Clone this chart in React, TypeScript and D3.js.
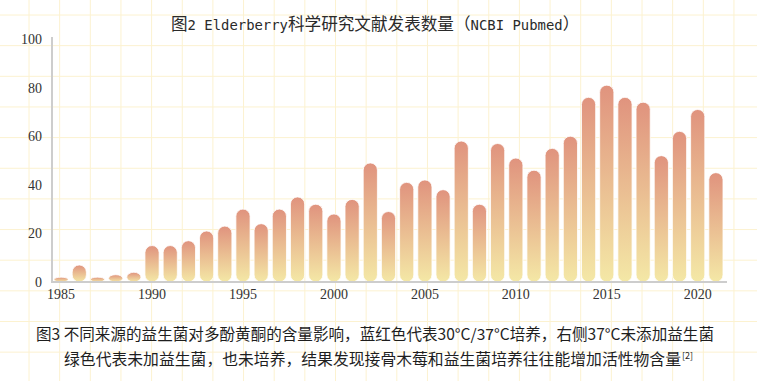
import React from "react";
import * as d3 from "d3";

const years: number[] = d3.range(1985, 2022);
const counts: number[] = [
  2, 7, 2, 3, 4, 15, 15, 17, 21, 23, 30, 24, 30, 35, 32, 28, 34, 49,
  29, 41, 42, 38, 58, 32, 57, 51, 46, 55, 60, 76, 81, 76, 74, 52, 62, 71, 45,
];
const yTicks: number[] = [0, 20, 40, 60, 80, 100];
const xTickYears: number[] = [1985, 1990, 1995, 2000, 2005, 2010, 2015, 2020];
const titleParts: { text: string; latin: boolean }[] = [
  { text: "图", latin: false },
  { text: "2 ", latin: true },
  { text: "Elderberry", latin: true },
  { text: "科学研究文献发表数量（", latin: false },
  { text: "NCBI Pubmed", latin: true },
  { text: "）", latin: false },
];
const captionLines: string[] = [
  "图3 不同来源的益生菌对多酚黄酮的含量影响，蓝红色代表30°C/37°C培养，右侧37°C未添加益生菌",
  "绿色代表未加益生菌，也未培养，结果发现接骨木莓和益生菌培养往往能增加活性物含量",
];

const W = 757;
const H = 381;

export default function App() {
  const x = d3
    .scaleBand<number>()
    .domain(years)
    .range([52, 725])
    .paddingInner(0.22)
    .paddingOuter(0.11);
  const y = d3.scaleLinear().domain([0, 100]).range([282, 39]);

  const gridStep = 30.65;
  const vLines = d3.range(29, W, gridStep);
  const hLines = d3.range(15, H, gridStep);

  const cjk = "'Noto Sans CJK SC', 'Noto Sans', sans-serif";
  const mono = "'DejaVu Sans Mono', 'Liberation Mono', monospace";
  const serif = "'Liberation Serif', 'DejaVu Serif', serif";

  const cjkSize = 16.6;
  const monoSize = 13.9;
  const full = cjkSize;
  const half = monoSize * 0.602;
  let cursor = 171;
  const titleLayout = titleParts.map((p) => {
    const w = p.latin ? p.text.length * half : p.text.length * full;
    const item = { ...p, x: cursor, w };
    cursor += w;
    return item;
  });

  return (
    <svg
      width={W}
      height={H}
      style={{ position: "absolute", left: 0, top: 0, display: "block", background: "#fff" }}
    >
      <defs>
        <linearGradient id="barGrad" x1="0" y1="0" x2="0" y2="1">
          <stop offset="0%" stopColor="#E0937E" />
          <stop offset="100%" stopColor="#F4E8A6" />
        </linearGradient>
      </defs>

      {/* grid paper background */}
      <g stroke="#FCF2D0" strokeWidth={1}>
        {vLines.map((gx, i) => (
          <line key={"v" + i} x1={gx} x2={gx} y1={0} y2={H} />
        ))}
        {hLines.map((gy, i) => (
          <line key={"h" + i} x1={0} x2={W} y1={gy} y2={gy} />
        ))}
      </g>

      {/* title */}
      <text
        y={29.5}
        fill="#2a2a2a"
        xmlSpace="preserve"
        style={{ fontFamily: cjk, fontSize: `${cjkSize}px`, whiteSpace: "pre" }}
      >
        {titleLayout.map((p, i) => (
          <tspan
            key={i}
            x={p.x}
            style={p.latin ? { fontFamily: mono, fontSize: `${monoSize}px` } : undefined}
          >
            {p.text}
          </tspan>
        ))}
      </text>

      {/* bars */}
      <g>
        {years.map((yr, i) => {
          const bx = x(yr)!;
          const bw = x.bandwidth();
          const top = y(counts[i]);
          const h = y(0) - top;
          return (
            <rect
              key={yr}
              x={bx}
              y={top}
              width={bw}
              height={h}
              rx={bw / 2}
              ry={Math.min(bw / 2, h / 2)}
              fill="url(#barGrad)"
              stroke="#ffffff"
              strokeOpacity={0.8}
              strokeWidth={1}
            />
          );
        })}
      </g>

      {/* axes */}
      <line x1={52} x2={52} y1={y(100) - 2} y2={y(0)} stroke="#cdcdcd" strokeWidth={2} />
      <line x1={51} x2={727} y1={y(0)} y2={y(0)} stroke="#cdcdcd" strokeWidth={2} />

      <g fill="#333" style={{ fontFamily: serif, fontSize: "14px" }}>
        {yTicks.map((t) => (
          <text key={t} x={42} y={y(t) + 5} textAnchor="end">
            {t}
          </text>
        ))}
        {xTickYears.map((yr) => (
          <text key={yr} x={x(yr)! + x.bandwidth() / 2} y={299} textAnchor="middle">
            {yr}
          </text>
        ))}
      </g>

      {/* caption */}
      <g fill="#1e1e1e" style={{ fontFamily: cjk, fontSize: "15.5px" }}>
        <text x={36} y={340} textLength={678} lengthAdjust="spacingAndGlyphs">
          {captionLines[0]}
        </text>
        <text x={64} y={365} textLength={617} lengthAdjust="spacingAndGlyphs">
          {captionLines[1]}
        </text>
        <text x={682} y={359} style={{ fontSize: "9px" }}>
          [2]
        </text>
      </g>
    </svg>
  );
}
